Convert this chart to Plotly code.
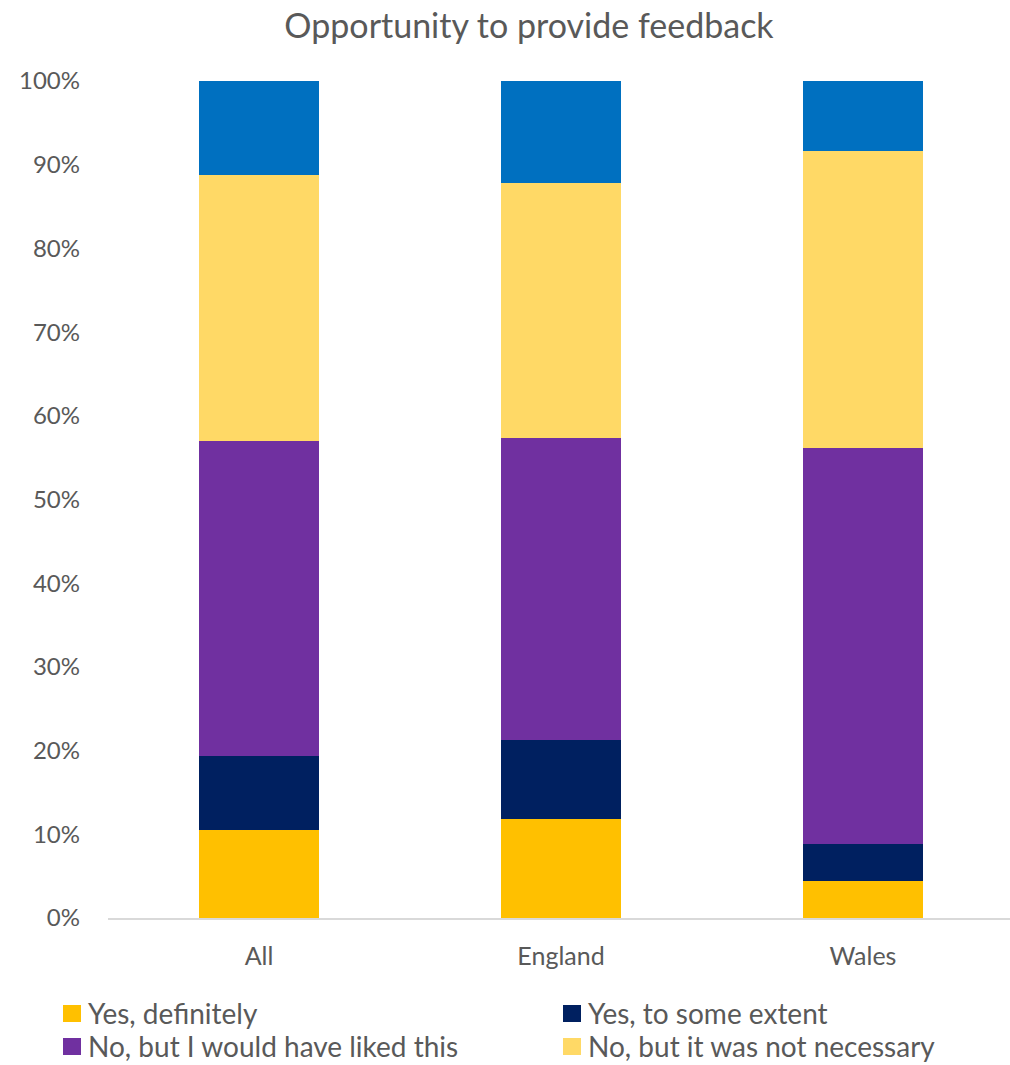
import plotly.graph_objects as go

# Survey responses, share of respondents (%) per nation
categories = ["All", "England", "Wales"]
series_names = [
    "Yes, definitely",
    "Yes, to some extent",
    "No, but I would have liked this",
    "No, but it was not necessary",
    "Don't know",
]
yes_definitely = [10.5, 11.8, 4.4]
yes_some_extent = [8.8, 9.5, 4.4]
no_would_have_liked = [37.7, 36.1, 47.3]
no_not_necessary = [31.8, 30.4, 35.5]
dont_know = [11.2, 12.2, 8.4]
tick_values = [0, 10, 20, 30, 40, 50, 60, 70, 80, 90, 100]
tick_labels = ["0%", "10%", "20%", "30%", "40%", "50%", "60%", "70%", "80%", "90%", "100%"]

series_values = [yes_definitely, yes_some_extent, no_would_have_liked, no_not_necessary, dont_know]
colors = ["#FFC000", "#002060", "#7030A0", "#FFD966", "#0070C0"]
in_legend = [True, True, True, True, False]

W, H = 1010, 1065
M_L, M_R, M_T, M_B = 108, 0, 81, 147
PW, PH = W - M_L - M_R, H - M_T - M_B
FONT = "Lato, Carlito, Calibri, sans-serif"
GREY = "#595959"


def px_to_paper(x, y):
    return (x - M_L) / PW, 1 - (y - M_T) / PH


fig = go.Figure()
for name, vals, col in zip(series_names, series_values, colors):
    fig.add_trace(go.Bar(
        x=categories, y=vals, name=name,
        marker=dict(color=col, line=dict(width=0)),
        width=0.4, showlegend=False,
        hovertemplate="%{x}: %{y:.1f}%<extra>" + name + "</extra>",
    ))

# Legend laid out in two columns below the axis
shapes, annotations = [], []
legend_pos = [(63, 1013), (563, 1013), (63, 1046), (563, 1046)]
legend_items = [(n, c) for n, c, show in zip(series_names, colors, in_legend) if show]
for (name, col), (lx, ly) in zip(legend_items, legend_pos):
    x0, y0 = px_to_paper(lx, ly - 8)
    x1, y1 = px_to_paper(lx + 18, ly + 9)
    shapes.append(dict(type="rect", xref="paper", yref="paper",
                       x0=x0, x1=x1, y0=y0, y1=y1,
                       fillcolor=col, line=dict(width=0)))
    tx, ty = px_to_paper(lx + 24, ly)
    annotations.append(dict(text=name, xref="paper", yref="paper",
                            x=tx, y=ty, xanchor="left", yanchor="middle",
                            showarrow=False, borderpad=0,
                            font=dict(family=FONT, size=28, color=GREY)))

fig.update_layout(
    width=W, height=H,
    margin=dict(l=M_L, r=M_R, t=M_T, b=M_B, autoexpand=False),
    paper_bgcolor="white", plot_bgcolor="white",
    barmode="stack", bargap=0.6,
    title=dict(text="Opportunity to provide feedback",
               x=529 / W, xanchor="center", xref="container",
               y=1 - 26 / H, yanchor="middle", yref="container",
               font=dict(family=FONT, size=34, color=GREY)),
    xaxis=dict(range=[-0.5, 2.5 - (906 - PW) / 302], showgrid=False,
               showline=True, linecolor="#D9D9D9", linewidth=1.5,
               ticks="", ticklabelstandoff=15,
               tickfont=dict(family=FONT, size=25, color=GREY),
               fixedrange=True),
    yaxis=dict(range=[0, 100], tickvals=tick_values, ticktext=tick_labels,
               showgrid=False, zeroline=False, showline=False,
               ticks="", ticklabelstandoff=27,
               tickfont=dict(family=FONT, size=24, color=GREY),
               fixedrange=True),
    shapes=shapes, annotations=annotations,
    showlegend=False,
)

fig.write_html("out.html")
